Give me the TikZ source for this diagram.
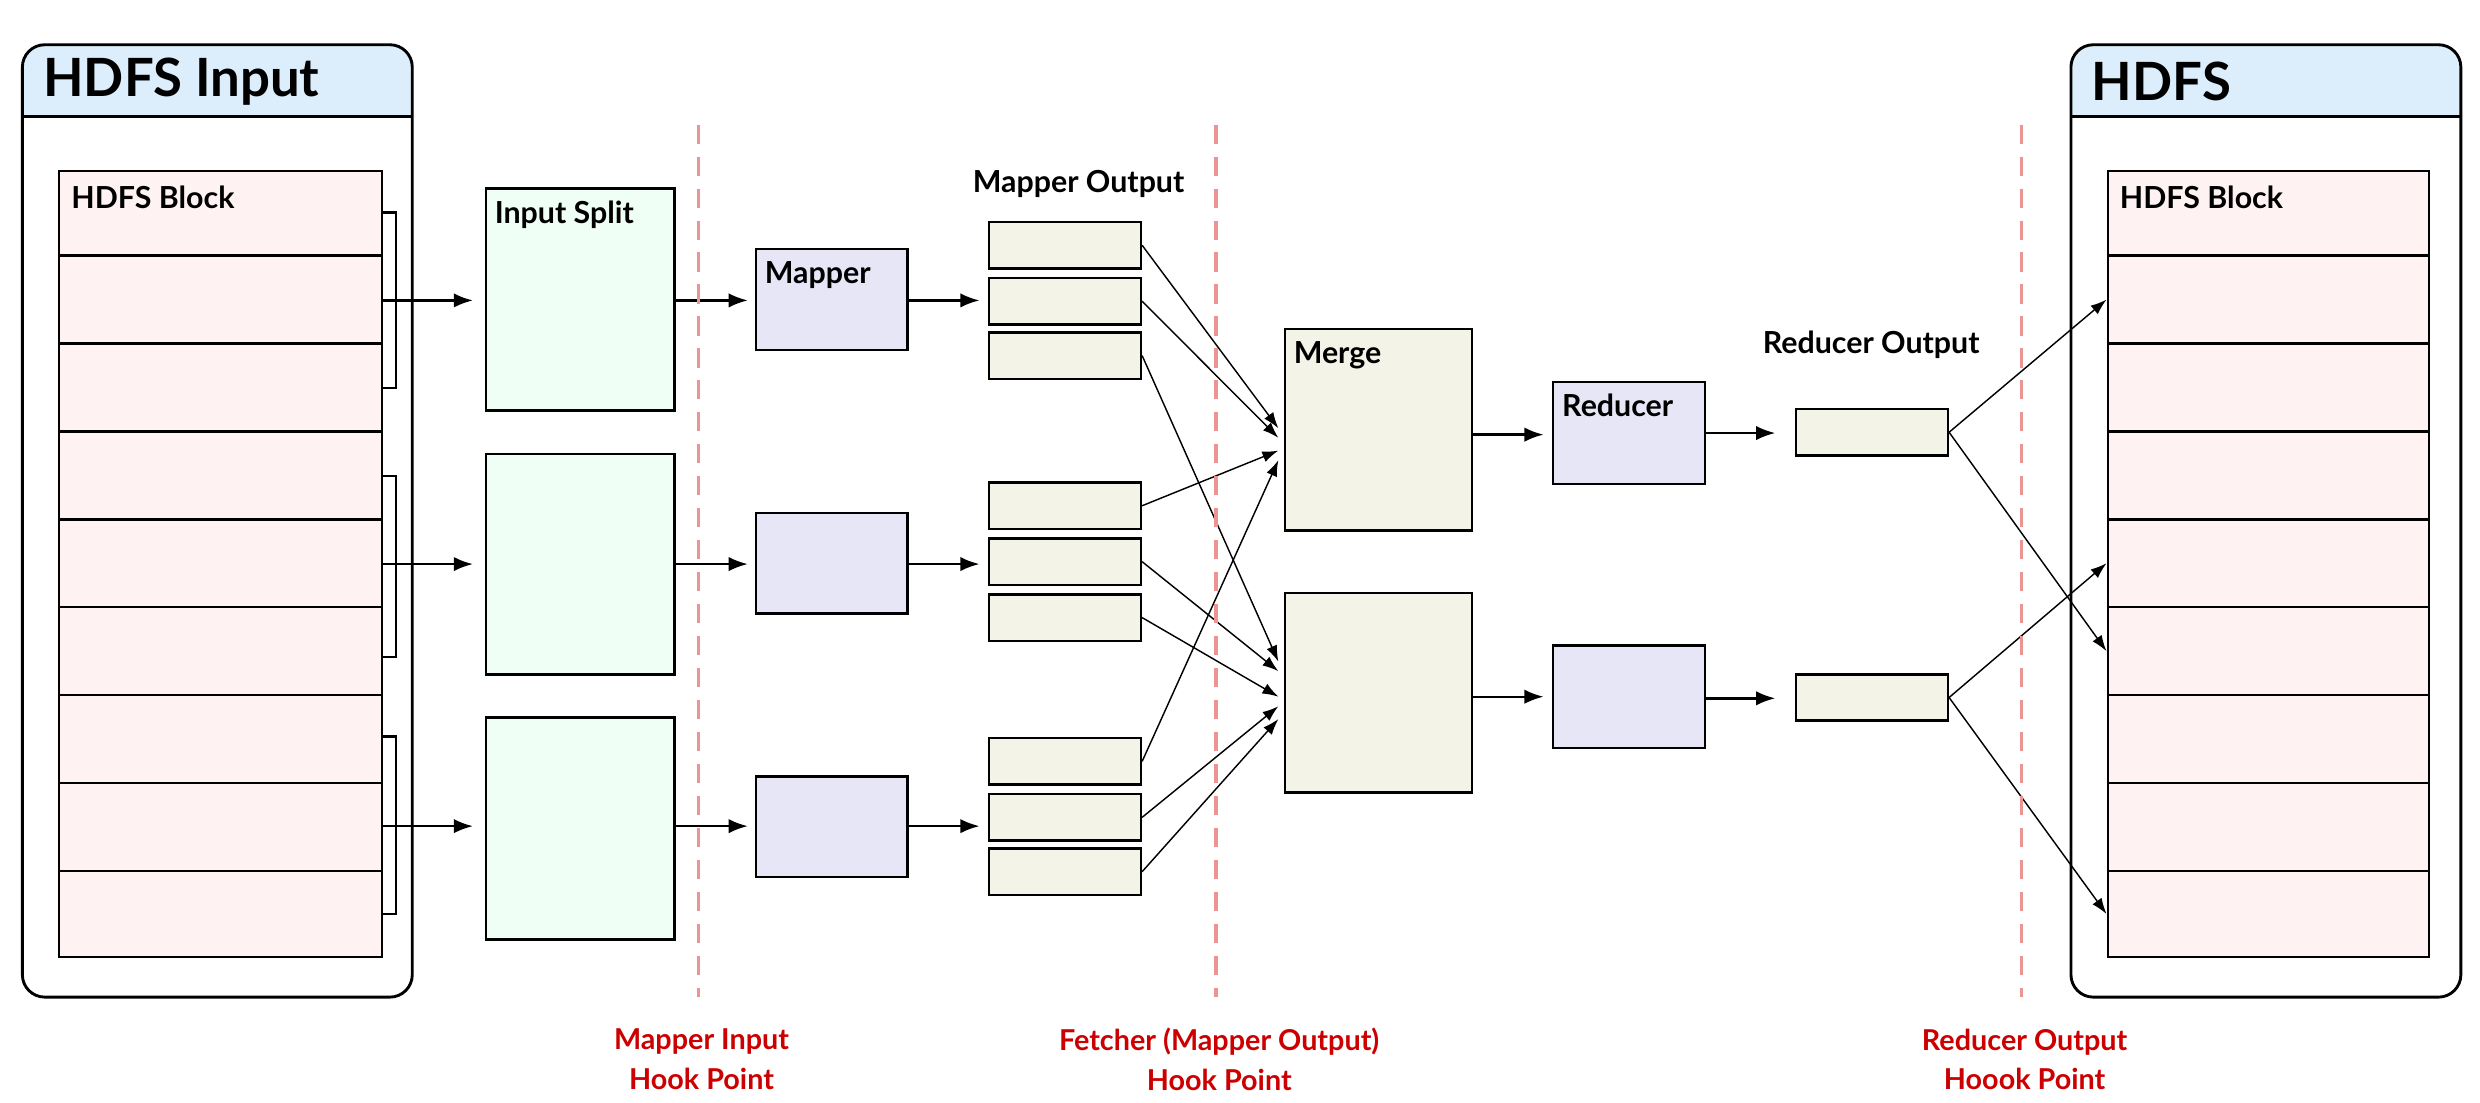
\documentclass[tikz,border=0pt]{standalone}
\usepackage{fontspec}
\setmainfont{Lato}
\usetikzlibrary{arrows.meta}
\definecolor{blk}{HTML}{FFF2F2}
\definecolor{spl}{HTML}{F0FFF5}
\definecolor{mapc}{HTML}{E6E6F6}
\definecolor{outc}{HTML}{F3F4E7}
\definecolor{hdr}{HTML}{DCEEFB}
\definecolor{hookc}{HTML}{CC0000}
\definecolor{dashc}{HTML}{EA9494}
\tikzset{
 bx/.style={draw,line width=0.75pt,inner sep=0pt,rectangle},
 lab/.style={font=\bfseries\fontsize{9.5}{12}\selectfont,anchor=north west,inner sep=0pt},
 arr/.style={line width=0.75pt,-{Latex[length=6pt,width=4.5pt]}},
 thin/.style={line width=0.45pt,-{Latex[length=5pt,width=3.5pt]}},
 hookl/.style={draw=dashc,line width=1pt,dash pattern=on 6pt off 4pt},
 hookt/.style={text=hookc,font=\bfseries\fontsize{9}{12.5}\selectfont,align=center},
}
\newcommand\mkbox[6]{\node[bx,fill=#6,minimum width={(#4-#2)*0.5pt},minimum height={(#5-#3)*0.5pt}] (#1) at ({(#2+#4)/2},{(#3+#5)/2}) {};}
\begin{document}
\begin{tikzpicture}[x=0.5pt,y=-0.5pt]
\useasboundingbox (0,0) rectangle (1552,690);
% outer boxes
\foreach \nm/\xa/\xb/\tx in {inbox/14/258/HDFS Input,outbox/1296/1540/HDFS}{
 \begin{scope}
 \clip[rounded corners=7pt] (\xa,28) rectangle (\xb,624);
 \fill[hdr] (\xa,28) rectangle (\xb,73);
 \end{scope}
 \draw[line width=0.75pt] (\xa,73) -- (\xb,73);
 \draw[line width=0.9pt,rounded corners=7pt] (\xa,28) rectangle (\xb,624);
 \node[font=\bfseries\fontsize{16.5}{20}\selectfont,anchor=west] (\nm h) at (\xa+6,51) {\tx};
}
% blocks
\foreach \i/\ya/\yb in {1/107/160,2/160/215,3/215/270,4/270/325,5/325/380,6/380/435,7/435/490,8/490/545,9/545/599}{
 \mkbox{L\i}{37}{\ya}{239}{\yb}{blk}
 \mkbox{R\i}{1319}{\ya}{1520}{\yb}{blk}
}
\node[lab] at ([shift={(4pt,-5pt)}]L1.north west) {HDFS Block};
\node[lab] at ([shift={(4pt,-5pt)}]R1.north west) {HDFS Block};
% brackets
\foreach \g/\a/\b/\m in {1/133/243/188,2/298/411/353,3/461/572/517}{
 \draw[line width=0.75pt] (239,\a) -- (248,\a) -- (248,\b) -- (239,\b);
 \coordinate (br\g) at (239,\m);
}
% splits
\mkbox{S1}{304}{118}{422}{257}{spl}
\mkbox{S2}{304}{284}{422}{422}{spl}
\mkbox{S3}{304}{449}{422}{588}{spl}
\node[lab] at ([shift={(3pt,-4pt)}]S1.north west) {Input Split};
% mappers
\mkbox{M1}{473}{156}{568}{219}{mapc}
\mkbox{M2}{473}{321}{568}{384}{mapc}
\mkbox{M3}{473}{486}{568}{549}{mapc}
\node[lab] at ([shift={(3pt,-4pt)}]M1.north west) {Mapper};
\foreach \g/\m in {1/188,2/353,3/517}{
 \draw[arr] (br\g) -- (296,\m);
 \draw[arr] (S\g.east |- 0,\m) -- (468,\m);
 \draw[arr] (M\g.east |- 0,\m) -- (613,\m);
}
% mapper outputs
\foreach \n/\ya in {1a/139,1b/174,1c/208,2a/302,2b/337,2c/372,3a/462,3b/497,3c/531}{
 \mkbox{O\n}{619}{\ya}{714}{\ya+29}{outc}
}
\node[font=\bfseries\fontsize{9.5}{12}\selectfont] at (675,115) {Mapper Output};
% merges
\mkbox{G1}{804}{206}{921}{332}{outc}
\mkbox{G2}{804}{371}{921}{496}{outc}
\node[lab] at ([shift={(3pt,-4pt)}]G1.north west) {Merge};
\foreach \o/\y in {1a/268,1b/274,1c/414,2a/282,2b/420,2c/436,3a/288,3b/442,3c/450}{
 \draw[thin] (O\o.east) -- (800,\y);
}
% reducers
\mkbox{D1}{972}{239}{1067}{303}{mapc}
\mkbox{D2}{972}{404}{1067}{468}{mapc}
\node[lab] at ([shift={(3pt,-4pt)}]D1.north west) {Reducer};
\mkbox{P1}{1124}{256}{1219}{285}{outc}
\mkbox{P2}{1124}{422}{1219}{451}{outc}
\node[font=\bfseries\fontsize{9.5}{12}\selectfont] at (1171,216) {Reducer Output};
\draw[arr] (G1.east |- 0,272) -- (966,272);
\draw[arr] (G2.east |- 0,436) -- (966,436);
\draw[arr] (D1.east |- 0,271) -- (1111,271);
\draw[arr] (D2.east |- 0,437) -- (1111,437);
\draw[thin] (P1.east) -- (R2.west);
\draw[thin] (P1.east) -- (R6.west);
\draw[thin] (P2.east) -- (R5.west);
\draw[thin] (P2.east) -- (R9.west);
% hook lines
\foreach \x/\t/\nm in {437/{Mapper Input\\Hook Point}/h1,761/{Fetcher (Mapper Output)\\Hook Point}/h2,1265/{Reducer Output\\Hoook Point}/h3}{
 \coordinate (\nm a) at (\x,78);
 \coordinate (\nm b) at (\x,624);
 \draw[hookl] (\nm a) -- (\nm b);
 \node[hookt] (\nm t) at (\x+2,663) {\t};
}
\end{tikzpicture}
\end{document}
